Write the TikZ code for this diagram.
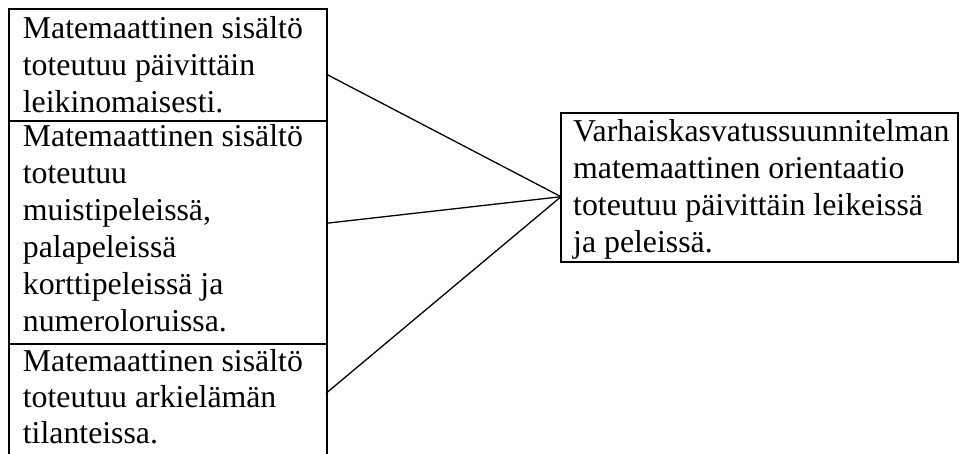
\documentclass[tikz,border=0pt]{standalone}
\usepackage{fontspec}
\setmainfont{Liberation Serif}
\begin{document}
\begin{tikzpicture}[x=1pt,y=-1pt,
  box/.style={draw, line width=1.6pt, inner sep=0pt, anchor=north west},
  txt/.style={anchor=base west, align=left, inner sep=0pt, font=\fontsize{31.8pt}{37pt}\selectfont},
  link/.style={line width=1.3pt}]
\useasboundingbox (0,0) rectangle (960,453);
\clip (0,0) rectangle (960,453);
\node[box, minimum width=318pt, minimum height=112pt] (b1) at (8,8) {};
\node[box, minimum width=318pt, minimum height=223pt] (b2) at (8,120) {};
\node[box, minimum width=318pt, minimum height=140pt] (b3) at (8,343) {};
\node[box, minimum width=397pt, minimum height=149pt] (r) at (560,112) {};
% base anchor of a multi-line node lies on its last line
\node[txt] (t1) at (22.7,112.3) {Matemaattinen sisältö\\toteutuu päivittäin\\leikinomaisesti.};
\node[txt] (t2) at (22.7,331.7) {Matemaattinen sisältö\\toteutuu\\muistipeleissä,\\palapeleissä\\korttipeleissä ja\\numeroloruissa.};
\node[txt, font=\fontsize{31.8pt}{36pt}\selectfont] (t3) at (22.7,443.7) {Matemaattinen sisältö\\toteutuu arkielämän\\tilanteissa.};
\node[txt] (tr) at (573,252.7) {Varhaiskasvatussuunnitelman\\matemaattinen orientaatio\\toteutuu päivittäin leikeissä\\ja peleissä.};
\coordinate (s1) at (326,74);
\coordinate (s2) at (326,223.3);
\coordinate (s3) at (326,393.3);
\coordinate (e) at (561,196.7);
\draw[link] (s1) -- (e);
\draw[link] (s2) -- (e);
\draw[link] (s3) -- (e);
\end{tikzpicture}
\end{document}
